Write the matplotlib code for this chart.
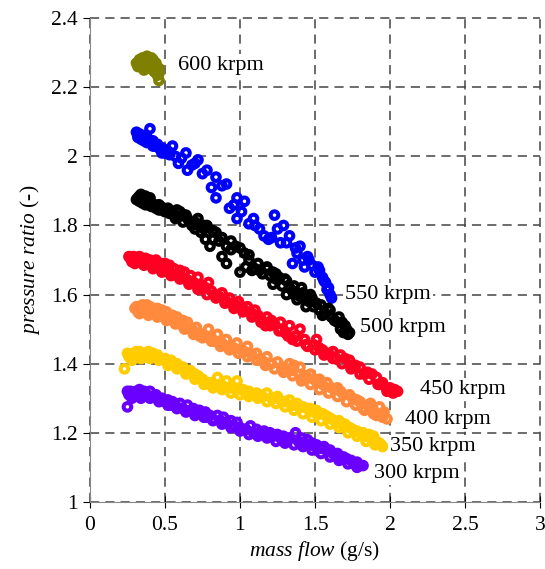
import matplotlib.pyplot as plt

plt.rcParams['font.family'] = ['Liberation Serif', 'DejaVu Serif']
plt.rcParams['mathtext.fontset'] = 'custom'
plt.rcParams['mathtext.rm'] = 'Liberation Serif'
plt.rcParams['mathtext.it'] = 'Liberation Serif:italic'

# speed lines
x600 = [0.31, 0.33, 0.34, 0.35, 0.36, 0.37, 0.38, 0.39, 0.40, 0.41, 0.42, 0.43, 0.44, 0.45, 0.46, 0.45, 0.34, 0.38, 0.42, 0.44,
        0.40, 0.46, 0.36, 0.43, 0.32, 0.35, 0.37, 0.39, 0.41, 0.44, 0.46, 0.33]
y600 = [2.27, 2.28, 2.26, 2.27, 2.28, 2.27, 2.29, 2.28, 2.26, 2.27, 2.28, 2.26, 2.27, 2.25, 2.24, 2.235, 2.265, 2.255, 2.25, 2.26,
        2.265, 2.22, 2.25, 2.245, 2.26, 2.285, 2.26, 2.27, 2.285, 2.25, 2.255, 2.275]

x550 = [0.31, 0.32, 0.33, 0.35, 0.36, 0.37, 0.38, 0.40, 0.41, 0.42, 0.43, 0.45, 0.47, 0.48, 0.50, 0.52, 0.55, 0.59, 0.64, 0.65,
        0.72, 0.78, 0.81, 0.84, 0.84, 0.91, 0.93, 0.98, 0.98, 1.03, 1.09, 1.13, 1.19, 1.23, 1.27, 1.29, 1.33, 1.35, 1.40, 1.43,
        1.45, 1.48, 1.52, 1.55, 1.57, 1.59, 1.61, 1.01, 1.06, 1.16, 1.38,
        0.32, 0.34, 0.34, 0.36, 0.38, 0.39, 0.41, 0.42, 0.44, 0.46, 0.48, 0.49, 0.51, 0.53, 0.57, 0.61, 0.68, 0.70, 0.75, 0.88,
        0.96, 1.10, 1.21, 1.25, 1.31, 1.37, 1.42, 1.46, 1.50, 1.53, 1.56, 1.58, 1.60]
y550 = [2.07, 2.06, 2.065, 2.05, 2.06, 2.05, 2.055, 2.08, 2.04, 2.045, 2.03, 2.035, 2.02, 2.025, 2.01, 2.015, 2.03, 1.98, 2.01, 1.96,
        1.99, 1.96, 1.91, 1.94, 1.88, 1.92, 1.85, 1.88, 1.82, 1.87, 1.82, 1.79, 1.76, 1.83, 1.75, 1.80, 1.77, 1.69, 1.74, 1.68,
        1.71, 1.685, 1.68, 1.65, 1.635, 1.62, 1.59, 1.84, 1.805, 1.77, 1.72,
        2.055, 2.06, 2.05, 2.045, 2.04, 2.05, 2.04, 2.03, 2.03, 2.025, 2.01, 2.02, 2.01, 2.005, 2.00, 1.995, 1.975, 1.98, 1.95, 1.915,
        1.86, 1.80, 1.765, 1.79, 1.75, 1.735, 1.70, 1.70, 1.665, 1.67, 1.64, 1.615, 1.60]

x500 = [0.32, 0.33, 0.34, 0.35, 0.36, 0.37, 0.38, 0.39, 0.40, 0.42, 0.45, 0.48, 0.51, 0.54, 0.57, 0.60, 0.65, 0.70, 0.72, 0.77,
        0.78, 0.80, 0.84, 0.88, 0.91, 0.91, 0.97, 1.00, 1.03, 1.04, 1.08, 1.13, 1.18, 1.22, 1.22, 1.26, 1.31, 1.31, 1.35, 1.38,
        1.41, 1.44, 1.47, 1.51, 1.55, 1.59, 1.63, 1.68, 1.69, 1.71, 1.73,
        0.31, 0.33, 0.35, 0.37, 0.39, 0.41, 0.43, 0.44, 0.46, 0.47, 0.50, 0.53, 0.56, 0.59, 0.62, 0.63, 0.68, 0.74, 0.76, 0.82,
        0.86, 0.94, 1.06, 1.10, 1.15, 1.20, 1.24, 1.28, 1.33, 1.36, 1.40, 1.43, 1.46, 1.49, 1.53, 1.57, 1.61, 1.65, 1.67, 1.70,
        1.72,
        0.34, 0.40, 0.46, 0.52, 0.58, 0.64, 0.70, 0.76, 0.82, 0.88, 0.94, 1.00, 1.06, 1.12, 1.18, 1.24, 1.30, 1.36, 1.42, 1.48,
        1.54, 1.60, 1.66]
y500 = [1.88, 1.885, 1.87, 1.88, 1.875, 1.885, 1.87, 1.865, 1.875, 1.86, 1.85, 1.845, 1.84, 1.835, 1.82, 1.84, 1.82, 1.79, 1.82, 1.76,
        1.80, 1.74, 1.78, 1.71, 1.69, 1.74, 1.74, 1.665, 1.72, 1.68, 1.67, 1.67, 1.68, 1.665, 1.63, 1.65, 1.64, 1.60, 1.61, 1.585,
        1.62, 1.565, 1.60, 1.575, 1.54, 1.56, 1.525, 1.52, 1.49, 1.50, 1.49,
        1.875, 1.87, 1.865, 1.86, 1.86, 1.855, 1.86, 1.85, 1.845, 1.855, 1.84, 1.835, 1.83, 1.825, 1.81, 1.83, 1.80, 1.78, 1.79, 1.76,
        1.755, 1.73, 1.70, 1.675, 1.66, 1.655, 1.645, 1.625, 1.62, 1.60, 1.595, 1.59, 1.58, 1.565, 1.555, 1.545, 1.535, 1.52, 1.50, 1.51,
        1.485,
        1.89, 1.88, 1.86, 1.85, 1.845, 1.83, 1.81, 1.80, 1.785, 1.765, 1.755, 1.735, 1.715, 1.69, 1.675, 1.66, 1.645, 1.625, 1.605, 1.59,
        1.57, 1.555, 1.535]

x450 = [0.26, 0.27, 0.29, 0.31, 0.33, 0.35, 0.37, 0.40, 0.42, 0.44, 0.47, 0.50, 0.53, 0.56, 0.60, 0.63, 0.67, 0.72, 0.73, 0.79,
        0.81, 0.88, 0.93, 0.99, 1.05, 1.10, 1.17, 1.18, 1.27, 1.27, 1.33, 1.35, 1.40, 1.43, 1.45, 1.51, 1.55, 1.58, 1.62, 1.67,
        1.70, 1.73, 1.77, 1.80, 1.85, 1.88, 1.91, 1.95, 1.98, 2.00, 2.03, 2.05,
        0.28, 0.30, 0.32, 0.34, 0.36, 0.38, 0.41, 0.43, 0.46, 0.49, 0.52, 0.55, 0.58, 0.61, 0.64, 0.66, 0.69, 0.71, 0.75, 0.77,
        0.83, 0.86, 0.90, 0.95, 0.97, 1.01, 1.03, 1.08, 1.12, 1.14, 1.21, 1.23, 1.30, 1.37, 1.49, 1.53, 1.60, 1.64, 1.75, 1.83,
        1.93, 2.02,
        0.30, 0.36, 0.42, 0.48, 0.54, 0.60, 0.66, 0.72, 0.78, 0.84, 0.90, 0.96, 1.02, 1.08, 1.14, 1.20, 1.26, 1.32, 1.38, 1.44,
        1.50, 1.56, 1.62, 1.68, 1.74, 1.80, 1.86, 1.92, 1.98]
y450 = [1.71, 1.705, 1.71, 1.705, 1.71, 1.70, 1.705, 1.70, 1.695, 1.70, 1.69, 1.69, 1.685, 1.675, 1.67, 1.665, 1.655, 1.65, 1.62, 1.635,
        1.61, 1.605, 1.59, 1.58, 1.565, 1.555, 1.51, 1.535, 1.52, 1.50, 1.51, 1.47, 1.50, 1.47, 1.45, 1.47, 1.44, 1.43, 1.435, 1.425,
        1.415, 1.41, 1.395, 1.39, 1.375, 1.37, 1.36, 1.345, 1.32, 1.33, 1.325, 1.32,
        1.695, 1.70, 1.695, 1.695, 1.69, 1.69, 1.685, 1.685, 1.68, 1.675, 1.67, 1.66, 1.655, 1.65, 1.645, 1.64, 1.635, 1.63, 1.625, 1.62,
        1.60, 1.595, 1.585, 1.575, 1.57, 1.565, 1.555, 1.545, 1.54, 1.53, 1.525, 1.515, 1.49, 1.48, 1.455, 1.445, 1.425, 1.415, 1.395, 1.37,
        1.34, 1.315,
        1.69, 1.685, 1.675, 1.665, 1.655, 1.645, 1.63, 1.615, 1.60, 1.59, 1.575, 1.56, 1.55, 1.535, 1.52, 1.51, 1.495, 1.48, 1.465, 1.455,
        1.44, 1.425, 1.415, 1.40, 1.385, 1.37, 1.355, 1.34, 1.325]

x400 = [0.30, 0.31, 0.33, 0.35, 0.38, 0.40, 0.42, 0.45, 0.48, 0.51, 0.55, 0.58, 0.62, 0.65, 0.71, 0.73, 0.79, 0.85, 0.91, 0.98,
        1.05, 1.11, 1.18, 1.25, 1.33, 1.36, 1.40, 1.42, 1.47, 1.51, 1.53, 1.58, 1.65, 1.69, 1.73, 1.78, 1.82, 1.87, 1.91, 1.93,
        1.95, 1.98,
        0.32, 0.34, 0.36, 0.39, 0.41, 0.44, 0.47, 0.50, 0.53, 0.56, 0.60, 0.63, 0.67, 0.69, 0.75, 0.77, 0.81, 0.83, 0.88, 0.94,
        0.96, 1.01, 1.03, 1.08, 1.14, 1.16, 1.21, 1.28, 1.30, 1.35, 1.44, 1.49, 1.55, 1.61, 1.63, 1.67, 1.75, 1.80, 1.85, 1.89,
        1.96,
        0.33, 0.39, 0.45, 0.51, 0.57, 0.63, 0.69, 0.75, 0.81, 0.87, 0.93, 0.99, 1.05, 1.11, 1.17, 1.23, 1.29, 1.35, 1.41, 1.47,
        1.53, 1.59, 1.65, 1.71, 1.77, 1.83, 1.89, 1.95]
y400 = [1.56, 1.565, 1.56, 1.57, 1.57, 1.565, 1.56, 1.56, 1.555, 1.55, 1.54, 1.535, 1.525, 1.52, 1.505, 1.48, 1.50, 1.485, 1.47, 1.46,
        1.45, 1.43, 1.42, 1.405, 1.40, 1.395, 1.39, 1.36, 1.37, 1.35, 1.355, 1.345, 1.33, 1.31, 1.31, 1.295, 1.27, 1.285, 1.25, 1.275,
        1.25, 1.24,
        1.55, 1.555, 1.555, 1.55, 1.55, 1.545, 1.54, 1.535, 1.53, 1.525, 1.515, 1.51, 1.50, 1.495, 1.485, 1.48, 1.475, 1.465, 1.46, 1.45,
        1.445, 1.44, 1.435, 1.425, 1.41, 1.405, 1.40, 1.39, 1.385, 1.38, 1.365, 1.355, 1.34, 1.33, 1.325, 1.32, 1.30, 1.29, 1.28, 1.265,
        1.26,
        1.545, 1.54, 1.535, 1.525, 1.515, 1.50, 1.485, 1.475, 1.465, 1.45, 1.44, 1.43, 1.42, 1.41, 1.395, 1.385, 1.375, 1.365, 1.35, 1.34,
        1.325, 1.315, 1.305, 1.29, 1.28, 1.265, 1.255, 1.245]

x350 = [0.23, 0.25, 0.27, 0.29, 0.31, 0.33, 0.36, 0.39, 0.42, 0.45, 0.50, 0.54, 0.58, 0.62, 0.67, 0.70, 0.73, 0.78, 0.85, 0.87,
        0.91, 0.98, 1.02, 1.06, 1.11, 1.18, 1.25, 1.33, 1.38, 1.42, 1.47, 1.51, 1.55, 1.59, 1.64, 1.68, 1.73, 1.78, 1.82, 1.86,
        1.89, 1.93, 1.95,
        0.26, 0.28, 0.30, 0.32, 0.35, 0.37, 0.40, 0.44, 0.47, 0.52, 0.56, 0.60, 0.64, 0.69, 0.72, 0.75, 0.80, 0.83, 0.89, 0.94,
        0.96, 1.00, 1.04, 1.08, 1.13, 1.15, 1.21, 1.23, 1.28, 1.30, 1.36, 1.40, 1.45, 1.49, 1.53, 1.57, 1.61, 1.66, 1.70, 1.75,
        1.80, 1.84, 1.88, 1.91, 1.94,
        0.28, 0.34, 0.40, 0.46, 0.52, 0.58, 0.64, 0.70, 0.76, 0.82, 0.88, 0.94, 1.00, 1.06, 1.12, 1.18, 1.24, 1.30, 1.36, 1.42,
        1.48, 1.54, 1.60, 1.66, 1.72, 1.78, 1.84, 1.90]
y350 = [1.385, 1.43, 1.425, 1.43, 1.435, 1.435, 1.43, 1.435, 1.43, 1.425, 1.415, 1.41, 1.40, 1.39, 1.38, 1.37, 1.36, 1.345, 1.36, 1.335,
        1.35, 1.35, 1.325, 1.32, 1.315, 1.315, 1.305, 1.295, 1.285, 1.275, 1.27, 1.265, 1.255, 1.245, 1.23, 1.225, 1.215, 1.205, 1.20, 1.195,
        1.19, 1.17, 1.16,
        1.42, 1.42, 1.42, 1.425, 1.425, 1.42, 1.425, 1.42, 1.415, 1.405, 1.40, 1.39, 1.38, 1.37, 1.365, 1.355, 1.345, 1.34, 1.335, 1.33,
        1.33, 1.325, 1.315, 1.31, 1.31, 1.305, 1.30, 1.30, 1.29, 1.29, 1.28, 1.275, 1.27, 1.26, 1.255, 1.25, 1.24, 1.235, 1.225, 1.21,
        1.20, 1.19, 1.18, 1.175, 1.165,
        1.41, 1.415, 1.415, 1.41, 1.395, 1.385, 1.37, 1.355, 1.34, 1.33, 1.325, 1.315, 1.31, 1.305, 1.30, 1.29, 1.285, 1.275, 1.265, 1.255,
        1.245, 1.235, 1.225, 1.215, 1.20, 1.19, 1.175, 1.165]

x300 = [0.25, 0.25, 0.27, 0.29, 0.31, 0.33, 0.36, 0.40, 0.44, 0.48, 0.52, 0.55, 0.60, 0.65, 0.69, 0.73, 0.77, 0.80, 0.85, 0.89,
        0.94, 0.98, 1.04, 1.07, 1.11, 1.16, 1.20, 1.25, 1.29, 1.37, 1.41, 1.45, 1.48, 1.51, 1.56, 1.60, 1.65, 1.69, 1.74, 1.78,
        1.82,
        0.26, 0.28, 0.30, 0.32, 0.35, 0.38, 0.42, 0.46, 0.50, 0.54, 0.57, 0.62, 0.67, 0.71, 0.75, 0.78, 0.82, 0.87, 0.91, 0.96,
        1.00, 1.02, 1.09, 1.13, 1.18, 1.22, 1.27, 1.31, 1.33, 1.39, 1.43, 1.47, 1.50, 1.54, 1.58, 1.62, 1.67, 1.71, 1.76, 1.80,
        0.28, 0.34, 0.40, 0.46, 0.52, 0.58, 0.64, 0.70, 0.76, 0.82, 0.88, 0.94, 1.00, 1.06, 1.12, 1.18, 1.24, 1.30, 1.36, 1.42,
        1.48, 1.54, 1.60, 1.66, 1.72, 1.78]
y300 = [1.275, 1.32, 1.32, 1.315, 1.32, 1.325, 1.32, 1.32, 1.31, 1.30, 1.295, 1.29, 1.285, 1.28, 1.27, 1.265, 1.26, 1.25, 1.25, 1.245,
        1.235, 1.23, 1.21, 1.22, 1.21, 1.205, 1.20, 1.195, 1.19, 1.20, 1.185, 1.18, 1.17, 1.165, 1.16, 1.15, 1.14, 1.13, 1.12, 1.115,
        1.105,
        1.31, 1.31, 1.31, 1.31, 1.31, 1.31, 1.305, 1.295, 1.29, 1.28, 1.28, 1.27, 1.265, 1.26, 1.255, 1.245, 1.24, 1.235, 1.23, 1.22,
        1.215, 1.21, 1.20, 1.20, 1.195, 1.19, 1.185, 1.18, 1.185, 1.175, 1.17, 1.165, 1.16, 1.155, 1.15, 1.14, 1.13, 1.125, 1.11, 1.105,
        1.30, 1.30, 1.30, 1.29, 1.28, 1.27, 1.26, 1.25, 1.245, 1.235, 1.225, 1.215, 1.205, 1.195, 1.19, 1.185, 1.175, 1.17, 1.165, 1.16,
        1.15, 1.14, 1.13, 1.12, 1.11, 1.10]

labels = ['600 krpm', '550 krpm', '500 krpm', '450 krpm', '400 krpm', '350 krpm', '300 krpm']
label_x = [0.59, 1.70, 1.80, 2.20, 2.10, 2.00, 1.89]
label_y = [2.264, 1.599, 1.506, 1.324, 1.237, 1.159, 1.081]

series = [(x600, y600, '#808000'), (x550, y550, '#0000ff'), (x500, y500, '#000000'),
          (x450, y450, '#ff0022'), (x400, y400, '#ff8a3d'), (x350, y350, '#ffcc00'),
          (x300, y300, '#6a00ff')]

fig = plt.figure(figsize=(5.45, 5.69), dpi=100)
ax = fig.add_axes([0.165, 0.118, 0.826, 0.850])

for xs, ys, c in series:
    ax.scatter(xs, ys, s=30, facecolors='none', edgecolors=c, linewidths=2.9, zorder=3)

for t, tx, ty in zip(labels, label_x, label_y):
    ax.text(tx, ty, t, fontsize=16, va='center', ha='left', zorder=4,
            bbox=dict(facecolor='white', edgecolor='none', pad=1.5))

ax.set_xlim(0, 3)
ax.set_ylim(1, 2.4)
ax.set_xticks([0, 0.5, 1, 1.5, 2, 2.5, 3])
ax.set_xticklabels(['0', '0.5', '1', '1.5', '2', '2.5', '3'])
ax.set_yticks([1, 1.2, 1.4, 1.6, 1.8, 2, 2.2, 2.4])
ax.set_yticklabels(['1', '1.2', '1.4', '1.6', '1.8', '2', '2.2', '2.4'])
ax.tick_params(axis='both', labelsize=15.5, color='black')
ax.tick_params(axis='y', direction='out', length=5, pad=4)
ax.tick_params(axis='x', direction='inout', length=8, pad=6)

for s in ax.spines.values():
    s.set_visible(False)
ax.spines['left'].set_visible(True)
ax.spines['left'].set_color('#888888')
ax.spines['bottom'].set_visible(True)
ax.spines['bottom'].set_color('#888888')

ax.grid(True, color='#444444', linestyle=(0, (6, 4)), linewidth=1.1)
for gl in ax.get_xgridlines() + ax.get_ygridlines():
    gl.set_clip_on(False)

ax.set_xlabel(r'$\mathit{mass\ flow}$ (g/s)', fontsize=15.5, labelpad=3)
ax.set_ylabel(r'$\mathit{pressure\ ratio}$ (-)', fontsize=15.5, labelpad=6)

fig.savefig('out.png', dpi=100)
